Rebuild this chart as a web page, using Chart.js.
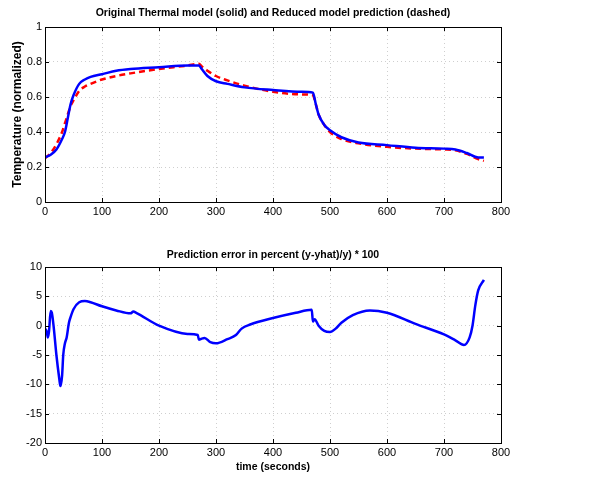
<!DOCTYPE html>
<html>
<head>
<meta charset="utf-8">
<script src="https://cdn.jsdelivr.net/npm/chart.js@4"></script>
<style>
  body { margin: 0; background: #fff; }
  #wrap { position: relative; width: 608px; height: 479px; }
  #topChart { position: absolute; left: 0; top: 0; }
  #bottomChart { position: absolute; left: 0; top: 232px; }
</style>
</head>
<body>
<div id="wrap">
  <canvas id="topChart" width="608" height="232"></canvas>
  <canvas id="bottomChart" width="608" height="247"></canvas>
</div>
<script>
// valori
const timeTemp = [0, 10, 20, 30, 35, 40, 45, 50, 60, 70, 80, 100, 125, 150, 200, 250, 270, 275, 285, 300, 320, 350, 400, 450, 470, 475, 480, 490, 500, 520, 550, 600, 650, 700, 720, 740, 760, 770];
const thermalModel = [0.255, 0.27, 0.30, 0.36, 0.40, 0.48, 0.56, 0.61, 0.675, 0.70, 0.715, 0.73, 0.75, 0.76, 0.77, 0.78, 0.78, 0.76, 0.72, 0.69, 0.675, 0.655, 0.64, 0.63, 0.625, 0.56, 0.50, 0.44, 0.41, 0.37, 0.34, 0.325, 0.31, 0.305, 0.30, 0.28, 0.255, 0.255];
const reducedModel = [0.25, 0.28, 0.33, 0.40, 0.45, 0.50, 0.55, 0.58, 0.635, 0.66, 0.675, 0.70, 0.72, 0.735, 0.76, 0.78, 0.79, 0.775, 0.75, 0.72, 0.695, 0.665, 0.63, 0.615, 0.61, 0.56, 0.50, 0.44, 0.40, 0.36, 0.335, 0.315, 0.305, 0.30, 0.295, 0.275, 0.245, 0.235];

const timeErr = [0, 3, 5, 7, 10, 12, 15, 20, 25, 27, 30, 32, 35, 38, 42, 45, 50, 60, 70, 80, 100, 125, 150, 155, 160, 200, 250, 268, 270, 275, 280, 290, 300, 320, 335, 345, 360, 400, 440, 468, 470, 473, 480, 490, 500, 510, 520, 540, 570, 600, 650, 700, 720, 735, 745, 750, 755, 760, 770];
const errPercent = [-0.5, -1, -2, -1, 2.5, 2.2, 0, -5, -9, -10.3, -8.5, -5, -3, -2, 0.5, 1.5, 2.8, 4, 4.2, 4, 3.3, 2.6, 2.1, 2.4, 2.2, 0, -1.4, -1.6, -2.4, -2.2, -2.1, -2.8, -3, -2.3, -1.6, -0.5, 0.2, 1.3, 2.2, 2.7, 0.7, 1.1, 0, -0.9, -1.1, -0.5, 0.5, 1.8, 2.6, 2.2, 0.3, -1.5, -2.5, -3.3, -2, 0, 3.5, 6, 7.8];

const xTicks = [0, 100, 200, 300, 400, 500, 600, 700, 800];

const fontFam = 'Liberation Sans, Arial, sans-serif';
Chart.defaults.font.family = fontFam;
Chart.defaults.color = '#000';

function toPoints(xs, ys) {
    return xs.map((x, i) => ({ x: x, y: ys[i] }));
}

// cornice stile MATLAB con tacche interne + titolo centrato sull'area del grafico
const boxPlugin = {
    id: 'box',
    afterDraw(chart, args, opts) {
        const a = chart.chartArea;
        const c = chart.ctx;
        c.save();
        c.strokeStyle = '#000';
        c.lineWidth = 1;
        c.strokeRect(a.left + 0.5, a.top + 0.5, a.right - a.left, a.bottom - a.top);
        const xs = chart.scales.x, ys = chart.scales.y;
        c.beginPath();
        xs.ticks.forEach(t => {
            const px = Math.round(xs.getPixelForValue(t.value)) + 0.5;
            c.moveTo(px, a.bottom); c.lineTo(px, a.bottom - 4);
            c.moveTo(px, a.top); c.lineTo(px, a.top + 4);
        });
        ys.ticks.forEach(t => {
            const py = Math.round(ys.getPixelForValue(t.value)) + 0.5;
            c.moveTo(a.left, py); c.lineTo(a.left + 4, py);
            c.moveTo(a.right, py); c.lineTo(a.right - 4, py);
        });
        c.stroke();
        if (opts.title) {
            c.fillStyle = '#000';
            c.font = 'bold 10.5px ' + fontFam;
            c.textAlign = 'center';
            c.textBaseline = 'middle';
            c.fillText(opts.title, (a.left + a.right) / 2, opts.titleY);
        }
        c.restore();
    }
};

function xScale(withTitle) {
    return {
        type: 'linear',
        min: 0, max: 800,
        afterBuildTicks: s => { s.ticks = xTicks.map(v => ({ value: v })); },
        afterFit: s => { s.height = withTitle ? 30 : 30; },
        grid: { color: '#cfcfcf', drawTicks: false },
        border: { display: false, dash: [1, 3] },
        ticks: { padding: 3, font: { size: 11 } },
        title: withTitle ? { display: true, text: 'time (seconds)', font: { size: 10.5, weight: 'bold' }, padding: 0 } : { display: false }
    };
}

const topChart = new Chart(document.getElementById('topChart'), {
    type: 'line',
    data: {
        datasets: [{
            label: 'Original Thermal model',
            data: toPoints(timeTemp, thermalModel),
            borderColor: '#0000ff',
            borderWidth: 2.5,
            pointRadius: 0,
            cubicInterpolationMode: 'monotone'
        }, {
            label: 'Reduced model prediction',
            data: toPoints(timeTemp, reducedModel),
            borderColor: '#ff0000',
            borderWidth: 2.5,
            borderDash: [6, 4],
            pointRadius: 0,
            cubicInterpolationMode: 'monotone'
        }]
    },
    options: {
        responsive: false,
        animation: false,
        layout: { padding: { left: 0, right: 107, top: 27, bottom: 0 } },
        plugins: {
            legend: { display: false },
            tooltip: { enabled: false },
            title: { display: false },
            box: { title: 'Original Thermal model (solid) and Reduced model prediction (dashed)', titleY: 13 }
        },
        scales: {
            x: xScale(false),
            y: {
                min: 0, max: 1,
                ticks: { stepSize: 0.2, padding: 3, font: { size: 11 }, callback: v => String(+v.toFixed(1)) },
                afterFit: s => { s.width = 45; },
                grid: { color: '#cfcfcf', drawTicks: false },
                border: { display: false, dash: [1, 3] },
                title: { display: true, text: 'Temperature (normalized)', font: { size: 12, weight: 'bold' }, padding: { top: 10, bottom: 0 } }
            }
        }
    },
    plugins: [boxPlugin]
});

const bottomChart = new Chart(document.getElementById('bottomChart'), {
    type: 'line',
    data: {
        datasets: [{
            label: 'Prediction error',
            data: toPoints(timeErr, errPercent),
            borderColor: '#0000ff',
            borderWidth: 2.5,
            pointRadius: 0,
            cubicInterpolationMode: 'monotone'
        }]
    },
    options: {
        responsive: false,
        animation: false,
        layout: { padding: { left: 0, right: 107, top: 35, bottom: 6 } },
        plugins: {
            legend: { display: false },
            tooltip: { enabled: false },
            title: { display: false },
            box: { title: 'Prediction error in percent (y-yhat)/y) * 100', titleY: 23 }
        },
        scales: {
            x: xScale(true),
            y: {
                min: -20, max: 10,
                ticks: { stepSize: 5, padding: 3, font: { size: 11 } },
                afterFit: s => { s.width = 45; },
                grid: { color: '#cfcfcf', drawTicks: false },
                border: { display: false, dash: [1, 3] }
            }
        }
    },
    plugins: [boxPlugin]
});
</script>
</body>
</html>
